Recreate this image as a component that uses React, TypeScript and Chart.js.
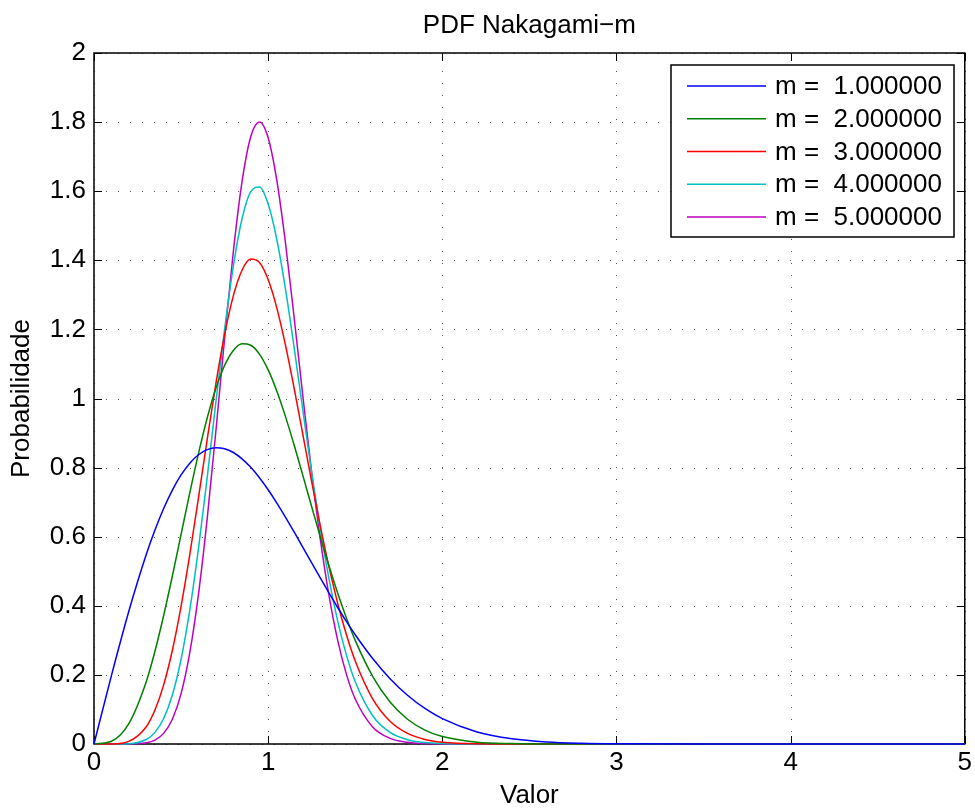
import React, { useEffect, useRef } from "react";
import { Chart, registerables } from "chart.js";

Chart.register(...registerables);

// ---- data ----
const xs = [0, 0.1, 0.2, 0.3, 0.35, 0.4, 0.45, 0.5, 0.55, 0.6, 0.65, 0.7, 0.75, 0.8, 0.85, 0.9, 0.95, 1.0, 1.05, 1.1, 1.15, 1.2, 1.25, 1.3, 1.35, 1.4, 1.45, 1.5, 1.6, 1.7, 1.8, 1.9, 2.0, 2.2, 2.4, 2.6, 2.8, 3.0, 3.5, 4.0, 4.5, 5.0];

const m1 = [0, 0.198, 0.3843, 0.5484, 0.6193, 0.6817, 0.735, 0.7788, 0.8129, 0.8372, 0.852, 0.8577, 0.8547, 0.8437, 0.8254, 0.8007, 0.7707, 0.7358, 0.6973, 0.656, 0.6129, 0.5686, 0.524, 0.4798, 0.4364, 0.3944, 0.3542, 0.3162, 0.2474, 0.189, 0.141, 0.1028, 0.0733, 0.0348, 0.0151, 0.006, 0.0022, 0.0007, 0, 0, 0, 0];
const m2 = [0, 0.0078, 0.0591, 0.1804, 0.2685, 0.3718, 0.4862, 0.6065, 0.7268, 0.8411, 0.9437, 1.0299, 1.0957, 1.1388, 1.1582, 1.1541, 1.1285, 1.0827, 1.021, 0.9468, 0.8639, 0.776, 0.6865, 0.5984, 0.5142, 0.4356, 0.3639, 0.2999, 0.1958, 0.1214, 0.0716, 0.0402, 0.0215, 0.0053, 0.0011, 0.0002, 0, 0, 0, 0, 0, 0];
const m3 = [0, 0.0003, 0.0077, 0.0501, 0.0982, 0.1711, 0.2714, 0.3986, 0.5483, 0.713, 0.882, 1.0434, 1.1852, 1.2971, 1.3713, 1.4036, 1.3936, 1.3442, 1.2615, 1.153, 1.0275, 0.8936, 0.7588, 0.6298, 0.5111, 0.4059, 0.3153, 0.2401, 0.1308, 0.0658, 0.0306, 0.0132, 0.0053, 0.0007, 0.0001, 0, 0, 0, 0, 0, 0, 0];
const m4 = [0, 0, 0.0009, 0.013, 0.0336, 0.0737, 0.1419, 0.2453, 0.3874, 0.566, 0.7719, 0.9899, 1.2006, 1.3834, 1.5203, 1.5985, 1.6121, 1.563, 1.4595, 1.3149, 1.1445, 0.9635, 0.7853, 0.6206, 0.4763, 0.3544, 0.2565, 0.1799, 0.0818, 0.0334, 0.0123, 0.0041, 0.0012, 0.0001, 0, 0, 0, 0, 0, 0, 0, 0];
const m5 = [0, 0, 0.0001, 0.0033, 0.0111, 0.0307, 0.0716, 0.1457, 0.2643, 0.4338, 0.6523, 0.9068, 1.1743, 1.4247, 1.6277, 1.7578, 1.8006, 1.7547, 1.6305, 1.4479, 1.2308, 1.0037, 0.7851, 0.5907, 0.4277, 0.2984, 0.2007, 0.1302, 0.0494, 0.0164, 0.0048, 0.0012, 0.0003, 0, 0, 0, 0, 0, 0, 0, 0, 0];

const seriesLabels = ["m =  1.000000", "m =  2.000000", "m =  3.000000", "m =  4.000000", "m =  5.000000"];
const seriesValues = [m1, m2, m3, m4, m5];
const seriesColors = ["#0000ff", "#008000", "#ff0000", "#00bfbf", "#bf00bf"];

const xTicks = [0, 1, 2, 3, 4, 5];
const xTickLabels = ["0", "1", "2", "3", "4", "5"];
const yTicks = [0, 0.2, 0.4, 0.6, 0.8, 1, 1.2, 1.4, 1.6, 1.8, 2];
const yTickLabels = ["0", "0.2", "0.4", "0.6", "0.8", "1", "1.2", "1.4", "1.6", "1.8", "2"];

const titleText = "PDF Nakagami\u2212m";
const xTitle = "Valor";
const yTitle = "Probabilidade";

const FONT = "'Liberation Sans', Arial, Helvetica, sans-serif";
const FS = 26;

const matlabPlugin = {
  id: "matlabAxes",
  beforeDatasetsDraw(chart: any) {
    const { ctx, chartArea: a, scales } = chart;
    const xs_ = scales.x;
    const ys_ = scales.y;
    ctx.save();
    // dotted grid
    ctx.strokeStyle = "rgba(0,0,0,0.65)";
    ctx.lineWidth = 1;
    ctx.setLineDash([1, 11]);
    xTicks.forEach((v) => {
      const px = Math.round(xs_.getPixelForValue(v)) + 0.5;
      ctx.beginPath();
      ctx.moveTo(px, a.bottom);
      ctx.lineTo(px, a.top);
      ctx.stroke();
    });
    yTicks.forEach((v) => {
      const py = Math.round(ys_.getPixelForValue(v)) + 0.5;
      ctx.beginPath();
      ctx.moveTo(a.left, py);
      ctx.lineTo(a.right, py);
      ctx.stroke();
    });
    ctx.setLineDash([]);
    // box
    ctx.strokeStyle = "#000";
    ctx.lineWidth = 1.5;
    ctx.strokeRect(a.left, a.top, a.right - a.left, a.bottom - a.top);
    // inward ticks
    const tl = 8;
    ctx.lineWidth = 1;
    xTicks.forEach((v) => {
      const px = Math.round(xs_.getPixelForValue(v)) + 0.5;
      ctx.beginPath();
      ctx.moveTo(px, a.bottom);
      ctx.lineTo(px, a.bottom - tl);
      ctx.moveTo(px, a.top);
      ctx.lineTo(px, a.top + tl);
      ctx.stroke();
    });
    yTicks.forEach((v) => {
      const py = Math.round(ys_.getPixelForValue(v)) + 0.5;
      ctx.beginPath();
      ctx.moveTo(a.left, py);
      ctx.lineTo(a.left + tl, py);
      ctx.moveTo(a.right, py);
      ctx.lineTo(a.right - tl, py);
      ctx.stroke();
    });
    // title
    ctx.fillStyle = "#000";
    ctx.font = `${FS}px ${FONT}`;
    ctx.textAlign = "center";
    ctx.textBaseline = "alphabetic";
    ctx.fillText(titleText, (a.left + a.right) / 2, 33);
    ctx.restore();
  },
  afterDatasetsDraw(chart: any) {
    const { ctx } = chart;
    ctx.save();
    const bx = 671, by = 65, bw = 283, bh = 172;
    ctx.fillStyle = "#fff";
    ctx.fillRect(bx, by, bw, bh);
    ctx.strokeStyle = "#000";
    ctx.lineWidth = 1.5;
    ctx.strokeRect(bx, by, bw, bh);
    ctx.font = `${FS}px ${FONT}`;
    ctx.textAlign = "left";
    ctx.textBaseline = "middle";
    seriesLabels.forEach((lab, i) => {
      const y = 86 + i * 32.75;
      ctx.strokeStyle = seriesColors[i];
      ctx.lineWidth = 1.5;
      ctx.beginPath();
      ctx.moveTo(687, y);
      ctx.lineTo(766, y);
      ctx.stroke();
      ctx.fillStyle = "#000";
      ctx.fillText(lab, 775, y + 1);
    });
    ctx.restore();
  },
};

export default function App() {
  const ref = useRef<HTMLCanvasElement | null>(null);
  useEffect(() => {
    if (!ref.current) return;
    const datasets = seriesValues.map((vals, i) => ({
      label: seriesLabels[i],
      data: xs.map((x, j) => ({ x, y: vals[j] })),
      borderColor: seriesColors[i],
      backgroundColor: seriesColors[i],
      borderWidth: 1.5,
      pointRadius: 0,
      fill: false,
      cubicInterpolationMode: "monotone" as const,
      clip: false as any,
    }));
    const chart = new Chart(ref.current, {
      type: "line",
      data: { datasets },
      plugins: [matlabPlugin],
      options: {
        responsive: false,
        animation: false,
        layout: { padding: { top: 53, right: 9, left: 0, bottom: 0 } },
        plugins: {
          legend: { display: false },
          title: { display: false },
          tooltip: { enabled: false },
        },
        scales: {
          x: {
            type: "linear",
            min: 0,
            max: 5,
            grid: { display: false, drawTicks: false },
            border: { display: false },
            afterBuildTicks: (s: any) => {
              s.ticks = xTicks.map((v) => ({ value: v }));
            },
            afterFit: (s: any) => {
              s.height = 67;
            },
            ticks: {
              color: "#000",
              padding: 3,
              maxRotation: 0,
              autoSkip: false,
              font: { family: FONT, size: FS },
              callback: (_v: any, i: number) => xTickLabels[i],
            },
            title: {
              display: true,
              text: xTitle,
              color: "#000",
              font: { family: FONT, size: FS },
              padding: { top: 0, bottom: 0 },
            },
          },
          y: {
            type: "linear",
            min: 0,
            max: 2,
            grid: { display: false, drawTicks: false },
            border: { display: false },
            afterBuildTicks: (s: any) => {
              s.ticks = yTicks.map((v) => ({ value: v }));
            },
            afterFit: (s: any) => {
              s.width = 94;
            },
            ticks: {
              color: "#000",
              padding: 8,
              autoSkip: false,
              font: { family: FONT, size: FS },
              callback: (_v: any, i: number) => yTickLabels[i],
            },
            title: {
              display: true,
              text: yTitle,
              color: "#000",
              font: { family: FONT, size: FS },
              padding: { top: 6, bottom: 0 },
            },
          },
        },
      },
    });
    return () => chart.destroy();
  }, []);
  return (
    <div style={{ position: "fixed", left: 0, top: 0, width: 975, height: 811, background: "#fff" }}>
      <canvas ref={ref} width={975} height={811} style={{ width: 975, height: 811, display: "block" }} />
    </div>
  );
}
